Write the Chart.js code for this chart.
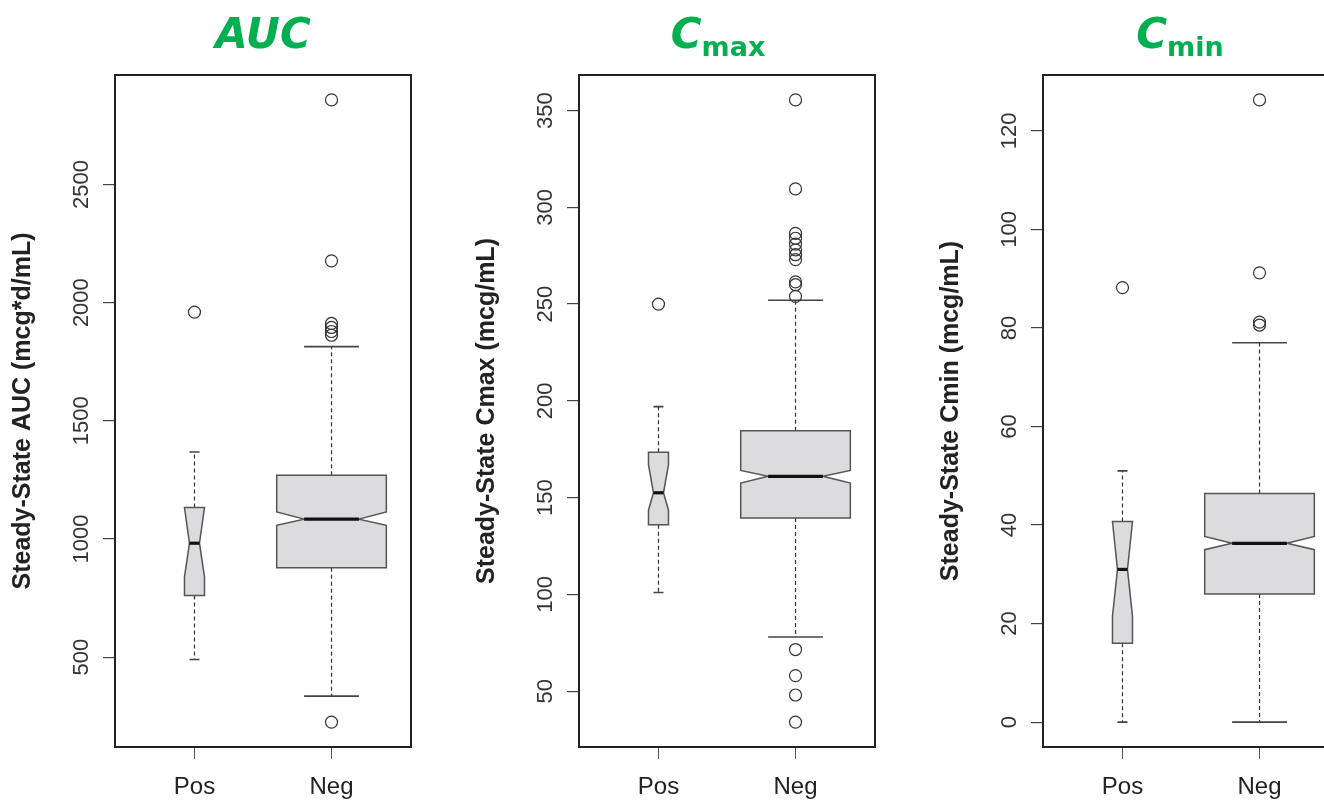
<!DOCTYPE html>
<html>
<head>
<meta charset="utf-8">
<script src="https://cdn.jsdelivr.net/npm/chart.js@4.4.1/dist/chart.umd.min.js"></script>
<style>
  body { margin: 0; background: #fff; width: 1324px; height: 801px; overflow: hidden; position: relative; }
  canvas { position: absolute; top: 0; }
</style>
</head>
<body>
<canvas id="auc" width="464" height="801" style="left:0px"></canvas>
<canvas id="cmax" width="464" height="801" style="left:464px"></canvas>
<canvas id="cmin" width="464" height="801" style="left:928px"></canvas>
<script>
const categories = ['Pos', 'Neg'];
const sampleSize = [10, 300];

// AUC
const aucTicks = [500, 1000, 1500, 2000, 2500];
const aucLow = [490, 335];
const aucQ1 = [761, 878];
const aucNotchLo = [840, 1058];
const aucMedian = [982, 1084];
const aucNotchHi = [1133, 1114];
const aucQ3 = [1133, 1270];
const aucHigh = [1368, 1814];
const aucOutPos = [1960];
const aucOutNeg = [225, 1862, 1878, 1895, 1912, 2177, 2858];

// Cmax
const cmaxTicks = [50, 100, 150, 200, 250, 300, 350];
const cmaxLow = [101, 78];
const cmaxQ1 = [136, 139.5];
const cmaxNotchLo = [143.5, 157.5];
const cmaxMedian = [152.5, 161];
const cmaxNotchHi = [167, 164];
const cmaxQ3 = [173.5, 184.5];
const cmaxHigh = [197, 252];
const cmaxOutPos = [250];
const cmaxOutNeg = [34, 48, 58, 71.5, 254, 260, 261.5, 273, 275.5, 278, 281, 284, 286.5, 309.5, 355.5];

// Cmin
const cminTicks = [0, 20, 40, 60, 80, 100, 120];
const cminLow = [0, 0];
const cminQ1 = [16, 26];
const cminNotchLo = [21.5, 35];
const cminMedian = [31, 36.3];
const cminNotchHi = [40.7, 37.7];
const cminQ3 = [40.7, 46.4];
const cminHigh = [51, 77];
const cminOutPos = [88.2];
const cminOutNeg = [80.6, 81.2, 91.2, 126.3];

const panels = [
  { id: 'auc', title: 'AUC', sub: '', shift: 0, yTitle: 'Steady-State AUC (mcg*d/mL)', ticks: aucTicks,
    low: aucLow, q1: aucQ1, nlo: aucNotchLo, med: aucMedian, nhi: aucNotchHi, q3: aucQ3, high: aucHigh, out: [aucOutPos, aucOutNeg] },
  { id: 'cmax', title: 'C', sub: 'max', shift: -9, yTitle: 'Steady-State Cmax (mcg/mL)', ticks: cmaxTicks,
    low: cmaxLow, q1: cmaxQ1, nlo: cmaxNotchLo, med: cmaxMedian, nhi: cmaxNotchHi, q3: cmaxQ3, high: cmaxHigh, out: [cmaxOutPos, cmaxOutNeg] },
  { id: 'cmin', title: 'C', sub: 'min', shift: -11, yTitle: 'Steady-State Cmin (mcg/mL)', ticks: cminTicks,
    low: cminLow, q1: cminQ1, nlo: cminNotchLo, med: cminMedian, nhi: cminNotchHi, q3: cminQ3, high: cminHigh, out: [cminOutPos, cminOutNeg] }
];

Chart.defaults.font.family = "'Liberation Sans', Arial, sans-serif";
const tickFont = 22;
const measure = document.createElement('canvas').getContext('2d');
function textWidth(t, font) { measure.font = font; return measure.measureText(t).width; }

const framePlugin = {
  id: 'frame',
  afterDraw(chart) {
    const { ctx, chartArea: a } = chart;
    ctx.save();
    ctx.strokeStyle = '#222';
    ctx.lineWidth = 2;
    ctx.strokeRect(a.left, a.top, a.right - a.left, a.bottom - a.top);
    ctx.restore();
  }
};

function boxPlugin(p) {
  const maxN = Math.max(...sampleSize);
  return {
    id: 'boxes',
    beforeDatasetsDraw(chart) {
      const { ctx } = chart;
      const xs = chart.scales.x, ys = chart.scales.y;
      categories.forEach((c, i) => {
        const cx = xs.getPixelForValue(i + 1);
        const w = 0.8 * Math.sqrt(sampleSize[i] / maxN);
        const half = xs.getPixelForValue(i + 1 + w / 2) - cx;
        const L = cx - half, R = cx + half, d = half / 2;
        const y = v => ys.getPixelForValue(v);
        ctx.save();
        // whiskers
        ctx.strokeStyle = '#333';
        ctx.lineWidth = 1.2;
        ctx.setLineDash([4, 3]);
        ctx.beginPath();
        ctx.moveTo(cx, y(p.q3[i])); ctx.lineTo(cx, y(p.high[i]));
        ctx.moveTo(cx, y(p.q1[i])); ctx.lineTo(cx, y(p.low[i]));
        ctx.stroke();
        ctx.setLineDash([]);
        ctx.strokeStyle = '#444';
        ctx.lineWidth = 1.6;
        ctx.beginPath();
        ctx.moveTo(cx - half / 2, y(p.high[i])); ctx.lineTo(cx + half / 2, y(p.high[i]));
        ctx.moveTo(cx - half / 2, y(p.low[i])); ctx.lineTo(cx + half / 2, y(p.low[i]));
        ctx.stroke();
        // notched box
        ctx.beginPath();
        ctx.moveTo(L, y(p.q1[i]));
        ctx.lineTo(L, y(p.nlo[i]));
        ctx.lineTo(L + d, y(p.med[i]));
        ctx.lineTo(L, y(p.nhi[i]));
        ctx.lineTo(L, y(p.q3[i]));
        ctx.lineTo(R, y(p.q3[i]));
        ctx.lineTo(R, y(p.nhi[i]));
        ctx.lineTo(R - d, y(p.med[i]));
        ctx.lineTo(R, y(p.nlo[i]));
        ctx.lineTo(R, y(p.q1[i]));
        ctx.closePath();
        ctx.fillStyle = '#dcdcde';
        ctx.fill();
        ctx.strokeStyle = '#555';
        ctx.lineWidth = 1.5;
        ctx.stroke();
        // median
        ctx.strokeStyle = '#111';
        ctx.lineWidth = 3.2;
        ctx.beginPath();
        ctx.moveTo(L + d, y(p.med[i])); ctx.lineTo(R - d, y(p.med[i]));
        ctx.stroke();
        ctx.restore();
      });
    }
  };
}

function titlePlugin(p) {
  return {
    id: 'panelTitle',
    afterDraw(chart) {
      const { ctx, chartArea: a } = chart;
      const mainFont = "italic bold 42px 'Comic Sans MS', 'DejaVu Sans', sans-serif";
      const subFont = "bold 27px 'Comic Sans MS', 'DejaVu Sans', sans-serif";
      ctx.save();
      ctx.fillStyle = '#00b050';
      ctx.textBaseline = 'alphabetic';
      ctx.textAlign = 'left';
      ctx.font = mainFont;
      const wMain = ctx.measureText(p.title).width;
      ctx.font = subFont;
      const wSub = p.sub ? ctx.measureText(p.sub).width : 0;
      const x0 = (a.left + a.right) / 2 + p.shift - (wMain + wSub) / 2;
      ctx.font = mainFont;
      ctx.fillText(p.title, x0, 48);
      if (p.sub) {
        ctx.font = subFont;
        ctx.fillText(p.sub, x0 + wMain, 56);
      }
      ctx.restore();
    }
  };
}

panels.forEach(p => {
  const all = [...p.low, ...p.high, ...p.out[0], ...p.out[1]];
  const lo = Math.min(...all), hi = Math.max(...all);
  const ext = (hi - lo) * 0.04;
  const widest = Math.max(...p.ticks.map(t => textWidth(String(t), tickFont + "px 'Liberation Sans'")));
  const points = [];
  p.out.forEach((vals, i) => vals.forEach(v => points.push({ x: i + 1, y: v })));

  new Chart(document.getElementById(p.id), {
    type: 'scatter',
    data: {
      datasets: [{
        data: points,
        pointStyle: 'circle',
        pointRadius: 6,
        pointBorderWidth: 1.2,
        borderColor: '#333',
        backgroundColor: 'rgba(0,0,0,0)'
      }]
    },
    options: {
      responsive: false,
      animation: false,
      layout: { padding: { top: 75, right: 53, left: 0, bottom: 0 } },
      plugins: { legend: { display: false }, tooltip: { enabled: false } },
      scales: {
        x: {
          type: 'linear',
          min: 0.42,
          max: 2.58,
          afterBuildTicks: s => { s.ticks = categories.map((c, i) => ({ value: i + 1 })); },
          afterFit: s => { s.height = 54; },
          ticks: {
            callback: v => categories[v - 1],
            font: { size: 24 },
            color: '#222',
            padding: 14,
            autoSkip: false,
            maxRotation: 0
          },
          grid: { drawOnChartArea: false, drawTicks: true, tickLength: 12, color: '#555', lineWidth: 1 },
          border: { display: false }
        },
        y: {
          type: 'linear',
          min: lo - ext,
          max: hi + ext,
          afterBuildTicks: s => { s.ticks = p.ticks.map(v => ({ value: v })); },
          afterFit: s => { s.width = 115; },
          ticks: {
            callback: v => String(v),
            font: { size: tickFont },
            color: '#333',
            minRotation: 90,
            maxRotation: 90,
            crossAlign: 'center',
            padding: 21 - widest / 2,
            autoSkip: false
          },
          grid: { drawOnChartArea: false, drawTicks: true, tickLength: 12, color: '#444', lineWidth: 1.2 },
          border: { display: false },
          title: {
            display: true,
            text: p.yTitle,
            font: { size: 25, weight: 'bold' },
            color: '#222',
            padding: { top: 8, bottom: 0 }
          }
        }
      }
    },
    plugins: [boxPlugin(p), framePlugin, titlePlugin(p)]
  });
});
</script>
</body>
</html>
